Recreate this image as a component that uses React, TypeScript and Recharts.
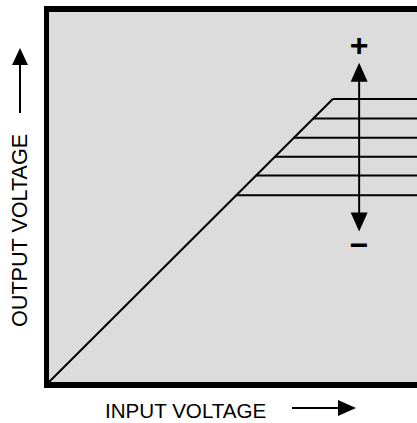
import { LineChart, Line, XAxis, YAxis, ReferenceLine } from "recharts";

// values in arbitrary volts, both axes share the same scale
const axisDomain = [0, 10];
const linearInput = [0, 7.65];
const plateauLevels = [7.65, 7.12, 6.6, 6.09, 5.58, 5.05];
const adjustInput = 8.36;
const adjustRange = [4.07, 8.63];

const linearData = linearInput.map((v) => ({ vin: v, vout: v }));
const plateauData = plateauLevels.map((level) => [
  { vin: level, vout: level },
  { vin: axisDomain[1], vout: level },
]);

const FONT = "'Liberation Sans', Arial, sans-serif";

function AdjustArrow(props: any) {
  const { x1, y1, x2, y2 } = props;
  const x = x1;
  const top = Math.min(y1, y2);
  const bottom = Math.max(y1, y2);
  return (
    <g>
      <line x1={x} y1={top + 12} x2={x} y2={bottom - 12} stroke="#000" strokeWidth={2} />
      <polygon points={`${x},${top} ${x - 8.5},${top + 19} ${x + 8.5},${top + 19}`} fill="#000" />
      <polygon points={`${x},${bottom} ${x - 8.5},${bottom - 19} ${x + 8.5},${bottom - 19}`} fill="#000" />
      <text x={x} y={top - 7} textAnchor="middle" fontSize={32} fontWeight="bold" fontFamily={FONT}>
        +
      </text>
      <text x={x} y={bottom + 25} textAnchor="middle" fontSize={32} fontWeight="bold" fontFamily={FONT}>
        −
      </text>
    </g>
  );
}

export default function App() {
  return (
    <div
      style={{
        position: "absolute",
        left: 0,
        top: 0,
        width: 417,
        height: 423,
        overflow: "hidden",
        background: "#fff",
      }}
    >
      <div
        style={{
          position: "absolute",
          left: 44,
          top: 6,
          width: 420,
          height: 370,
          background: "#dcdcdc",
          borderStyle: "solid",
          borderColor: "#000",
          borderWidth: "6px 0 6px 5px",
        }}
      />
      <div style={{ position: "absolute", left: 0, top: 0 }}>
        <LineChart
          width={430}
          height={423}
          margin={{ top: 12, right: 10, bottom: 41, left: 49 }}
        >
          <XAxis type="number" dataKey="vin" domain={axisDomain} hide />
          <YAxis type="number" dataKey="vout" domain={axisDomain} hide />
          <Line
            data={linearData}
            dataKey="vout"
            type="linear"
            stroke="#000"
            strokeWidth={2}
            dot={false}
            isAnimationActive={false}
          />
          {plateauData.map((d, i) => (
            <Line
              key={`plateau-${i}`}
              data={d}
              dataKey="vout"
              type="linear"
              stroke="#000"
              strokeWidth={2}
              dot={false}
              isAnimationActive={false}
            />
          ))}
          <ReferenceLine
            segment={[
              { x: adjustInput, y: adjustRange[1] },
              { x: adjustInput, y: adjustRange[0] },
            ]}
            shape={AdjustArrow}
          />
        </LineChart>
      </div>
      <svg
        width={417}
        height={423}
        style={{ position: "absolute", left: 0, top: 0 }}
      >
        <text
          transform="translate(27,327) rotate(-90)"
          fontSize={21.6}
          fontFamily={FONT}
          fill="#000"
        >
          OUTPUT VOLTAGE
        </text>
        <line x1={20} y1={113} x2={20} y2={60} stroke="#000" strokeWidth={2} />
        <polygon points="20,48 12,65 28,65" fill="#000" />
        <text x={105} y={418} fontSize={20.6} fontFamily={FONT} fill="#000">
          INPUT VOLTAGE
        </text>
        <line x1={292} y1={408} x2={342} y2={408} stroke="#000" strokeWidth={2} />
        <polygon points="356,408 338,400 338,416" fill="#000" />
      </svg>
    </div>
  );
}
